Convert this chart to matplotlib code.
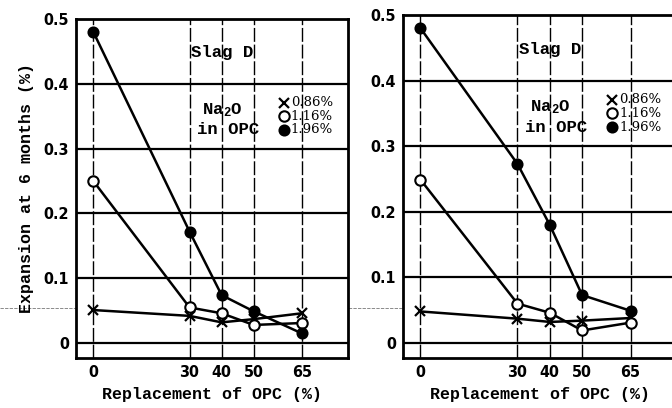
import matplotlib
matplotlib.use("Agg")
import matplotlib.pyplot as plt
from matplotlib.lines import Line2D

# replacement level of OPC (%)
replacement = [0, 30, 40, 50, 65]

# expansion at 6 months (%), left panel
left_086 = [0.051, 0.042, 0.032, 0.037, 0.046]
left_116 = [0.250, 0.055, 0.046, 0.028, 0.031]
left_196 = [0.480, 0.172, 0.074, 0.049, 0.015]

# expansion at 6 months (%), right panel
right_086 = [0.048, 0.037, 0.032, 0.034, 0.038]
right_116 = [0.249, 0.060, 0.046, 0.019, 0.031]
right_196 = [0.480, 0.273, 0.180, 0.073, 0.049]

yticks = [0, 0.1, 0.2, 0.3, 0.4, 0.5]
ytick_labels = ["0", "0.1", "0.2", "0.3", "0.4", "0.5"]
na2o_labels = ["0.86%", "1.16%", "1.96%"]

plt.rcParams["mathtext.fontset"] = "custom"
plt.rcParams["mathtext.rm"] = "Liberation Mono:bold"
plt.rcParams["mathtext.it"] = "Liberation Mono:bold"

MONO = ["Liberation Mono", "DejaVu Sans Mono"]
SERIF = ["DejaVu Serif", "Liberation Serif"]
TICKFONT = dict(family=["DejaVu Sans"], fontweight="bold", fontsize=11.5,
                fontstretch="condensed")

STYLES = [
    dict(marker="x", ms=6.5, mew=1.6, mfc="black", mec="black"),
    dict(marker="o", ms=7.5, mew=1.5, mfc="white", mec="black"),
    dict(marker="o", ms=7.5, mew=1.2, mfc="black", mec="black"),
]


def panel(ax, series):
    ax.set_xlim(-5.4, 79.4)
    ax.set_ylim(-0.023, 0.5)
    for y in yticks[:-1]:
        ax.axhline(y, color="black", lw=1.6, zorder=1)
    for x in replacement:
        ax.axvline(x, color="black", lw=1.0, ls=(0, (10, 2)), zorder=1)
    for vals, st in zip(series, STYLES):
        ax.plot(replacement, vals, color="black", lw=1.8, zorder=3, **st)

    ax.set_xticks(replacement)
    ax.set_xticklabels([str(v) for v in replacement], **TICKFONT)
    ax.set_yticks(yticks)
    ax.set_yticklabels(ytick_labels, **TICKFONT)
    ax.tick_params(length=0, pad=5)
    for s in ax.spines.values():
        s.set_linewidth(2)

    ax.set_xlabel("Replacement of OPC (%)", family=MONO, fontweight="bold",
                  fontsize=12, labelpad=5)

    ax.text(40, 0.448, "Slag D", family=MONO, fontweight="bold",
            fontsize=12.5, ha="center", va="center")
    ax.text(34.0, 0.360, "Na$_2$O", family=MONO, fontweight="bold",
            fontsize=12.5, ha="left", va="center")
    ax.text(32.3, 0.329, "in OPC", family=MONO, fontweight="bold",
            fontsize=12.5, ha="left", va="center")
    for y, lab, st in zip([0.371, 0.350, 0.329], na2o_labels, STYLES):
        ax.plot([59.3], [y], color="black", ls="none", zorder=4, **st)
        ax.text(61.6, y, lab, family=SERIF, fontsize=9.5, ha="left",
                va="center")


fig = plt.figure(figsize=(6.72, 4.08), dpi=100)
ax1 = fig.add_axes([0.1131, 0.1225, 0.4048, 0.831])
ax2 = fig.add_axes([0.5997, 0.1225, 0.4080, 0.8407])

panel(ax1, [left_086, left_116, left_196])
panel(ax2, [right_086, right_116, right_196])

ax1.set_ylabel("Expansion at 6 months (%)", family=MONO, fontweight="bold",
               fontsize=12, labelpad=7)

# faint scan line crossing the page
fig.add_artist(Line2D([0, 1], [1 - 308 / 408] * 2, color="#777777",
                      lw=0.6, ls=(0, (4, 1.5)), transform=fig.transFigure,
                      zorder=0))

fig.savefig("out.png", dpi=100)
